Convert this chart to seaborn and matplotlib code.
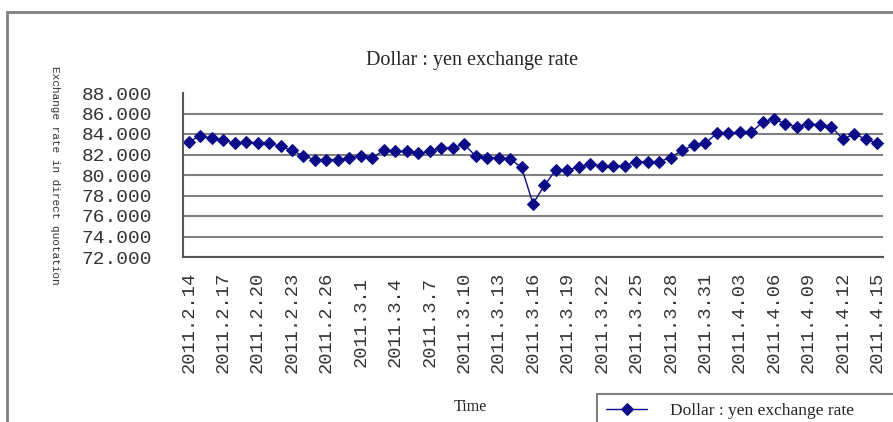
import numpy as np
import pandas as pd
import matplotlib
matplotlib.use("Agg")
import matplotlib.pyplot as plt
from matplotlib.patches import Rectangle
import seaborn as sns

# daily dollar:yen rate, 2011-02-14 .. 2011-04-15 (61 days)
rates = [83.25, 83.8, 83.6, 83.4, 83.1, 83.25, 83.1, 83.1, 82.8, 82.4,
         81.85, 81.5, 81.5, 81.5, 81.7, 81.85, 81.7, 82.4, 82.3, 82.3,
         82.1, 82.3, 82.65, 82.65, 83.0, 81.85, 81.7, 81.7, 81.55, 80.75,
         77.2, 79.0, 80.5, 80.5, 80.75, 81.05, 80.9, 80.9, 80.9, 81.3,
         81.3, 81.3, 81.7, 82.4, 82.9, 83.1, 84.05, 84.05, 84.2, 84.15,
         85.15, 85.45, 85.0, 84.7, 85.0, 84.9, 84.7, 83.5, 84.0, 83.5,
         83.1]
tick_labels = ["2011.2.14", "2011.2.17", "2011.2.20", "2011.2.23", "2011.2.26",
               "2011.3.1", "2011.3.4", "2011.3.7", "2011.3.10", "2011.3.13",
               "2011.3.16", "2011.3.19", "2011.3.22", "2011.3.25", "2011.3.28",
               "2011.3.31", "2011.4.03", "2011.4.06", "2011.4.09", "2011.4.12",
               "2011.4.15"]
y_ticks = [72, 74, 76, 78, 80, 82, 84, 86, 88]

df = pd.DataFrame({"day": np.arange(len(rates)), "rate": rates})

sns.set_style("white")
mono = "Liberation Mono"
serif = "Liberation Serif"
navy = "#0c0c88"

fig = plt.figure(figsize=(8.93, 4.22), dpi=100)
ax = fig.add_axes([183 / 893, 1 - 257 / 422, 700 / 893, 164 / 422])

sns.lineplot(data=df, x="day", y="rate", ax=ax, color=navy, lw=1.0,
             marker="D", markersize=6, markeredgecolor=navy,
             label="Dollar : yen exchange rate", legend=False)

ax.set_xlim(-0.5, len(rates) - 0.5)
ax.set_ylim(72, 88)
ax.set_yticks(y_ticks, [f"{v:.3f}" for v in y_ticks], fontfamily=mono,
              fontsize=14, color="#333333")
ax.set_xticks(np.arange(0, len(rates), 3), tick_labels, rotation=90,
              fontfamily=mono, fontsize=13.5, color="#333333")
ax.set_xticks(np.arange(-0.5, len(rates)), minor=True)
ax.tick_params(axis="x", which="major", length=0, pad=47)
ax.tick_params(axis="x", which="minor", direction="in", length=4,
               color="#555555", width=1.2)
ax.tick_params(axis="y", direction="in", length=6, color="#555555",
               width=1.2, pad=22)
for lbl in ax.get_xticklabels():
    lbl.set_va("center")

ax.grid(axis="y", color="#808080", lw=1.5)
ax.yaxis.get_gridlines()[-1].set_visible(False)
for s in ["top", "right"]:
    ax.spines[s].set_visible(False)
for s in ["left", "bottom"]:
    ax.spines[s].set_color("#555555")
    ax.spines[s].set_linewidth(1.5)

ax.set_xlabel("")
ax.set_ylabel("Exchange rate in direct quotation", fontfamily=mono,
              fontsize=8, rotation=270, color="#333333")
ax.yaxis.set_label_coords(-0.19, 0.5)

fig.text(472 / 893, 1 - 60 / 422, "Dollar : yen exchange rate",
         ha="center", va="center", fontfamily=serif, fontsize=14.5)
fig.text(470 / 893, 1 - 407 / 422, "Time", ha="center", va="center",
         fontfamily=serif, fontsize=11.5)

leg = ax.legend(loc="upper left", bbox_to_anchor=(597 / 893, 1 - 394 / 422, 0.4, 0.0),
                bbox_transform=fig.transFigure, mode="expand", borderaxespad=0,
                prop={"family": serif, "size": 12.5}, handlelength=2.4,
                handletextpad=1.3, borderpad=0.5, fancybox=False, framealpha=1)
leg.get_frame().set_edgecolor("#808080")
leg.get_frame().set_linewidth(1.5)

fig.patches.append(Rectangle((7 / 893, -0.1), 1.2, 1.1 - 12 / 422,
                             transform=fig.transFigure, fill=False,
                             edgecolor="#808080", lw=2))

fig.savefig("out.png", dpi=100)
